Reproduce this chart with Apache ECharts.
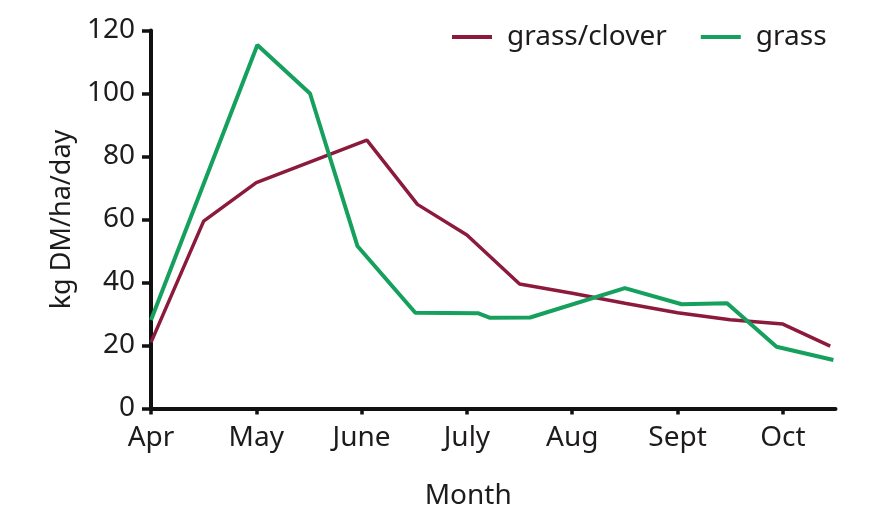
<!DOCTYPE html>
<html>
<head>
<meta charset="utf-8">
<script src="https://cdn.jsdelivr.net/npm/echarts@6/dist/echarts.min.js"></script>
<style>
html,body{margin:0;padding:0;background:#fff;}
#chart{width:873px;height:527px;}
</style>
</head>
<body>
<div id="chart"></div>
<script>
// month tick labels (x position = months since start of April)
const months = ['Apr', 'May', 'June', 'July', 'Aug', 'Sept', 'Oct'];
const monthTicks = [0, 1, 2, 3, 4, 5, 6];

// grass/clover
const cloverX = [0, 0.5, 1.0, 2.05, 2.53, 3.0, 3.5, 4.0, 4.5, 5.0, 5.5, 6.0, 6.45];
const cloverY = [21, 59.5, 71.7, 85.2, 64.8, 55.1, 39.5, 36.6, 33.4, 30.4, 28.2, 26.8, 19.8];

// grass
const grassX = [0, 1.01, 1.51, 1.96, 2.51, 3.11, 3.22, 3.6, 4.5, 5.04, 5.47, 5.94, 6.48];
const grassY = [28.1, 115.4, 100, 51.6, 30.4, 30.2, 28.8, 28.9, 38.2, 33.1, 33.4, 19.6, 15.4];

const zip = (xs, ys) => xs.map((x, i) => [x, ys[i]]);

const FONT = 'Noto Sans';
const TXT = '#1e1b1c';
const RED = '#8c1a3c';
const GREEN = '#16a05d';

const chart = echarts.init(document.getElementById('chart'), null, {renderer: 'canvas'});
chart.setOption({
  animation: false,
  backgroundColor: '#fff',
  textStyle: {fontFamily: FONT},
  grid: {left: 151, right: 37.5, top: 30.5, bottom: 118.5, outerBoundsMode: 'none'},
  legend: {
    left: 447, top: 18,
    itemWidth: 40, itemGap: 34,
    itemHeight: 4,
    icon: 'rect',
    textStyle: {fontFamily: FONT, fontSize: 28, color: TXT, padding: [0, 0, 0, 10]},
    data: ['grass/clover', 'grass']
  },
  xAxis: {
    type: 'value', min: 0, max: 6.5,
    name: 'Month', nameLocation: 'middle', nameGap: 74,
    nameTextStyle: {fontFamily: FONT, fontSize: 28, color: TXT, padding: [0, 50, 0, 0]},
    splitLine: {show: false},
    axisLine: {show: true, lineStyle: {color: '#111', width: 4}},
    axisTick: {show: true, customValues: monthTicks, length: 6, lineStyle: {color: '#111', width: 3.5}},
    axisLabel: {
      customValues: monthTicks, margin: 16,
      fontFamily: FONT, fontSize: 28, color: TXT,
      formatter: v => months[Math.round(v)] || ''
    }
  },
  yAxis: {
    type: 'value', min: 0, max: 120, interval: 20,
    name: 'kg DM/ha/day', nameLocation: 'middle', nameGap: 75,
    nameTextStyle: {fontFamily: FONT, fontSize: 27, color: TXT},
    splitLine: {show: false},
    axisLine: {show: true, lineStyle: {color: '#111', width: 4}},
    axisTick: {show: true, length: 9, lineStyle: {color: '#111', width: 3.5}},
    axisLabel: {margin: 16, fontFamily: FONT, fontSize: 28, color: TXT}
  },
  series: [
    {
      name: 'grass/clover', type: 'line', symbol: 'none',
      data: zip(cloverX, cloverY),
      lineStyle: {color: RED, width: 3.5}, itemStyle: {color: RED}
    },
    {
      name: 'grass', type: 'line', symbol: 'none',
      data: zip(grassX, grassY),
      lineStyle: {color: GREEN, width: 4}, itemStyle: {color: GREEN}
    }
  ]
});
</script>
</body>
</html>
